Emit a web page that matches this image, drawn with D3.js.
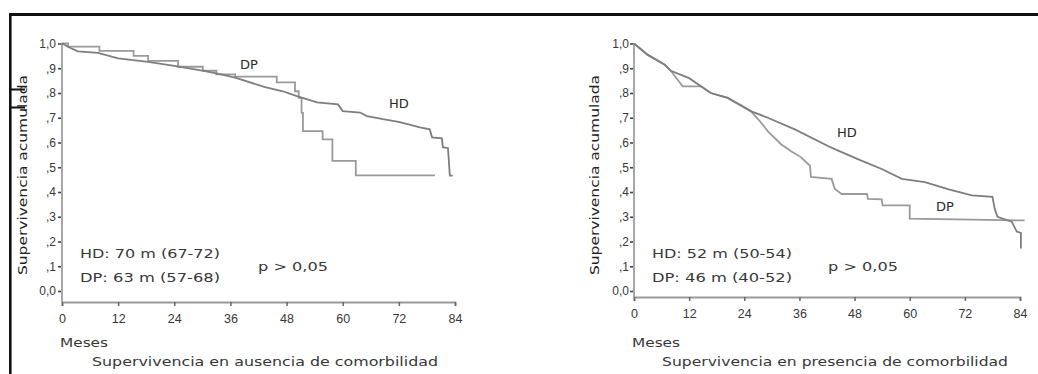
<!DOCTYPE html>
<html>
<head>
<meta charset="utf-8">
<script src="https://cdn.jsdelivr.net/npm/d3@7"></script>
<style>
  html, body { margin: 0; padding: 0; background: #fff; }
  svg { display: block; font-family: "DejaVu Sans", Verdana, sans-serif; }
</style>
</head>
<body>
<div id="chart"></div>
<script>
// months on the x axis
const monthTicks = [0, 12, 24, 36, 48, 60, 72, 84];
const survTicks = [0, 0.1, 0.2, 0.3, 0.4, 0.5, 0.6, 0.7, 0.8, 0.9, 1.0];
const survTickLabels = ["0,0", ",1", ",2", ",3", ",4", ",5", ",6", ",7", ",8", ",9", "1,0"];

// left panel: sin comorbilidad
const hdAusencia = [
  [0, 1.0], [1.5, 0.985], [3.4, 0.968], [7.7, 0.962], [12, 0.94], [18.4, 0.926],
  [24, 0.91], [30, 0.89], [34, 0.875], [37, 0.862], [43.4, 0.824], [47.2, 0.807],
  [50.2, 0.787], [54.5, 0.762], [59, 0.754], [60, 0.727], [63.7, 0.721], [65.2, 0.707],
  [68.6, 0.694], [72.2, 0.682], [76.5, 0.661], [78.6, 0.653], [79.1, 0.621],
  [81.2, 0.617], [81.4, 0.581], [82.5, 0.577], [82.9, 0.466], [83.5, 0.466]
];
const dpAusencia = [
  [0, 1.0], [1.3, 0.987], [8, 0.97], [15.3, 0.95], [18.4, 0.93], [24.8, 0.906],
  [30.1, 0.89], [33, 0.875], [37, 0.866], [45.9, 0.843], [49.8, 0.807], [50.6, 0.78],
  [51.2, 0.72], [51.5, 0.646], [55.7, 0.613], [57.8, 0.526], [62.8, 0.467], [79.7, 0.467]
];

// right panel: con comorbilidad
const hdPresencia = [
  [0, 1.0], [3, 0.954], [6.7, 0.914], [8, 0.89], [12, 0.86], [16.7, 0.8], [20.4, 0.78],
  [25.4, 0.727], [29.1, 0.7], [35, 0.653], [42.2, 0.586], [43.7, 0.573], [48.7, 0.533],
  [53.9, 0.493], [58.3, 0.453], [63.3, 0.44], [68.3, 0.412], [73.5, 0.386], [78, 0.38],
  [78.5, 0.332], [79.1, 0.3], [82.2, 0.28], [83.3, 0.24], [84.2, 0.235], [84.2, 0.172]
];
const dpPresencia = [
  [0, 1.0], [3, 0.954], [6.7, 0.914], [8, 0.89], [10.6, 0.827], [14.6, 0.827],
  [16.7, 0.8], [20.4, 0.78], [25.4, 0.727], [27.4, 0.686], [29.1, 0.646], [32, 0.593],
  [34.1, 0.566], [36.3, 0.541], [38.3, 0.506], [38.5, 0.461], [43, 0.453], [43.7, 0.412],
  [45.2, 0.392], [50.7, 0.392], [50.9, 0.372], [53.9, 0.37], [54.1, 0.346], [60, 0.346],
  [60, 0.292], [85, 0.285]
];

const panelTitles = ["Supervivencia en ausencia de comorbilidad", "Supervivencia en presencia de comorbilidad"];
const medianTexts = [
  ["HD: 70 m (67-72)", "DP: 63 m (57-68)"],
  ["HD: 52 m (50-54)", "DP: 46 m (40-52)"]
];
const pText = "p > 0,05";

const width = 1038, height = 374;
const ink = "#383838";

const svg = d3.select("#chart").append("svg")
  .attr("width", width)
  .attr("height", height);

// page frame (top rule + left rule)
svg.append("path")
  .attr("d", "M9,14.5H1038")
  .attr("stroke", "#111")
  .attr("stroke-width", 3)
  .attr("fill", "none");
svg.append("path")
  .attr("d", "M10.3,13V374")
  .attr("stroke", "#111")
  .attr("stroke-width", 2.6)
  .attr("fill", "none");
svg.append("path")
  .attr("d", "M10,89.5H25M10,107.5H25")
  .attr("stroke", "#111")
  .attr("stroke-width", 2)
  .attr("fill", "none");

const panels = [
  {
    x0: 62, x1: 455, axisY: 302, yLabelX: 22, tickRight: 56,
    hd: hdAusencia, dp: dpAusencia, dpStep: true,
    title: panelTitles[0], titleX: 265, med: medianTexts[0], medX: 80, pX: 258,
    hdLab: [399, 103], dpLab: [249, 64]
  },
  {
    x0: 634, x1: 1020, axisY: 297, yLabelX: 594, tickRight: 629,
    hd: hdPresencia, dp: dpPresencia, dpStep: false,
    title: panelTitles[1], titleX: 835, med: medianTexts[1], medX: 652, pX: 828,
    hdLab: [847, 132], dpLab: [945, 206]
  }
];

panels.forEach(p => {
  const g = svg.append("g");

  const x = d3.scaleLinear().domain([0, 84]).range([p.x0, p.x1]);
  const y = d3.scaleLinear().domain([0, 1]).range([291, 43.5]);

  // y axis
  const yAxis = d3.axisLeft(y)
    .tickValues(survTicks)
    .tickFormat((d, i) => survTickLabels[i])
    .tickSize(4)
    .tickPadding(2);
  const ya = g.append("g")
    .attr("transform", `translate(${p.x0},0)`)
    .call(yAxis);
  ya.select(".domain").remove();
  ya.selectAll("line").attr("stroke", "#444").attr("stroke-width", 1.6);
  ya.selectAll("text")
    .attr("x", p.tickRight - p.x0)
    .attr("fill", ink)
    .style("font-size", "12px");
  g.append("line")
    .attr("x1", p.x0).attr("x2", p.x0)
    .attr("y1", y(1)).attr("y2", p.axisY)
    .attr("stroke", "#a8a8a8")
    .attr("stroke-width", 2);

  // x axis
  const xAxis = d3.axisBottom(x)
    .tickValues(monthTicks)
    .tickSize(4)
    .tickPadding(8);
  const xa = g.append("g")
    .attr("transform", `translate(0,${p.axisY})`)
    .call(xAxis);
  xa.select(".domain").attr("stroke", "#9a9a9a").attr("stroke-width", 1.8);
  xa.selectAll("line").attr("stroke", "#666").attr("stroke-width", 1.5);
  xa.selectAll("text")
    .attr("fill", ink)
    .style("font-size", "12.5px");

  // curves
  const lineFn = d3.line().x(d => x(d[0])).y(d => y(d[1]));
  const stepFn = d3.line().x(d => x(d[0])).y(d => y(d[1])).curve(d3.curveStepAfter);

  g.append("path")
    .datum(p.dp)
    .attr("d", p.dpStep ? stepFn : lineFn)
    .attr("fill", "none")
    .attr("stroke", "#9a9a9a")
    .attr("stroke-width", 1.8);
  g.append("path")
    .datum(p.hd)
    .attr("d", lineFn)
    .attr("fill", "none")
    .attr("stroke", "#7e7e7e")
    .attr("stroke-width", 1.8);

  // curve labels
  g.append("text")
    .attr("x", p.hdLab[0]).attr("y", p.hdLab[1])
    .attr("text-anchor", "middle").attr("dy", "0.35em")
    .attr("fill", "#2a2a2a")
    .style("font-size", "13px")
    .text("HD");
  g.append("text")
    .attr("x", p.dpLab[0]).attr("y", p.dpLab[1])
    .attr("text-anchor", "middle").attr("dy", "0.35em")
    .attr("fill", "#2a2a2a")
    .style("font-size", "13px")
    .text("DP");

  // median survival notes
  p.med.forEach((t, i) => {
    g.append("text")
      .attr("x", p.medX).attr("y", i === 0 ? 254 : 278)
      .attr("dy", "0.35em")
      .attr("fill", ink)
      .attr("textLength", 140)
      .attr("lengthAdjust", "spacingAndGlyphs")
      .style("font-size", "12.5px")
      .text(t);
  });
  g.append("text")
    .attr("x", p.pX).attr("y", 267)
    .attr("dy", "0.35em")
    .attr("fill", ink)
    .attr("textLength", 70)
    .attr("lengthAdjust", "spacingAndGlyphs")
    .style("font-size", "12.5px")
    .text(pText);

  // axis titles
  g.append("text")
    .attr("transform", `translate(${p.yLabelX},175) rotate(-90)`)
    .attr("text-anchor", "middle")
    .attr("dy", "0.35em")
    .attr("fill", "#222")
    .attr("textLength", 200)
    .attr("lengthAdjust", "spacingAndGlyphs")
    .style("font-size", "13px")
    .text("Supervivencia acumulada");
  g.append("text")
    .attr("x", p.x0 - 2).attr("y", 343)
    .attr("dy", "0.35em")
    .attr("fill", ink)
    .attr("textLength", 48)
    .attr("lengthAdjust", "spacingAndGlyphs")
    .style("font-size", "12px")
    .text("Meses");
  g.append("text")
    .attr("x", p.titleX).attr("y", 362)
    .attr("text-anchor", "middle")
    .attr("dy", "0.35em")
    .attr("fill", ink)
    .attr("textLength", 346)
    .attr("lengthAdjust", "spacingAndGlyphs")
    .style("font-size", "12.5px")
    .text(p.title);
});
</script>
</body>
</html>
